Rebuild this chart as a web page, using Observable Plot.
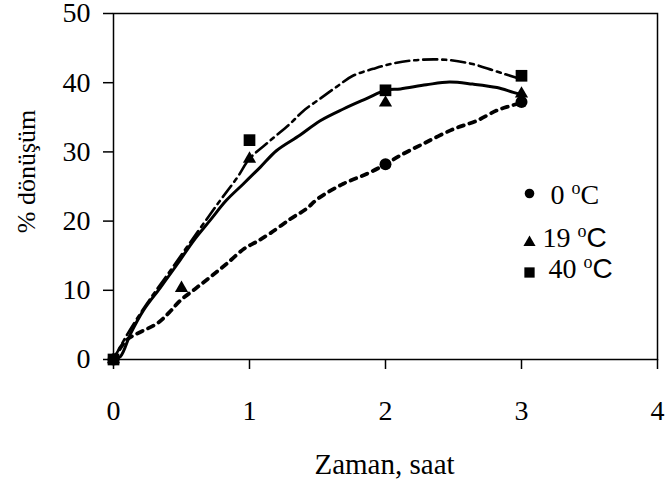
<!DOCTYPE html>
<html>
<head>
<meta charset="utf-8">
<script src="https://cdn.jsdelivr.net/npm/d3@7"></script>
<script src="https://cdn.jsdelivr.net/npm/@observablehq/plot@0.6"></script>
<style>
  html, body { margin: 0; padding: 0; background: #fff; }
</style>
</head>
<body>
<div id="chart"></div>
<script>
// ---- data ----
const xTicks = [0, 1, 2, 3, 4];
const yTicks = [0, 10, 20, 30, 40, 50];
const xLabel = "Zaman, saat";
const yLabel = "% dönüşüm";
const legendLabels = ["0 ºC", "19 ºC", "40 ºC"];
const legendSymbols = ["circle", "triangle", "square"];

// measured points
const time0 = [0, 2, 3];
const conv0 = [0, 28.2, 37.2];
const time19 = [0, 0.5, 1, 2, 3];
const conv19 = [0, 10.3, 29.0, 37.1, 38.4];
const time40 = [0, 1, 2, 3];
const conv40 = [0, 31.7, 38.9, 41.0];

// trend curves
const curve0X = [0, 0.09, 0.17, 0.32, 0.41, 0.49, 0.6, 0.71, 0.83, 0.96, 1.05, 1.15, 1.3, 1.42, 1.5, 1.69, 1.86, 2.0, 2.11, 2.28, 2.5, 2.67, 2.82, 2.91, 3.0];
const curve0Y = [0, 2.7, 3.7, 5.2, 6.8, 8.5, 10.2, 11.9, 13.8, 16.0, 17.0, 18.2, 20.3, 21.8, 23.2, 25.4, 26.8, 28.2, 29.5, 31.2, 33.3, 34.5, 36.0, 36.6, 37.1];
const curve19X = [0, 0.05, 0.125, 0.22, 0.345, 0.47, 0.59, 0.71, 0.83, 0.956, 1.08, 1.2, 1.37, 1.52, 1.69, 1.86, 2.0, 2.11, 2.3, 2.47, 2.64, 2.82, 2.94, 3.0];
const curve19Y = [0, 0.4, 3.7, 7.1, 10.4, 13.8, 17.2, 20.1, 23.0, 25.4, 27.8, 30.2, 32.4, 34.5, 36.2, 37.7, 38.9, 39.1, 39.7, 40.1, 39.8, 39.3, 38.6, 38.3];
const curve40X = [0, 0.1, 0.25, 0.42, 0.61, 0.785, 0.91, 1.0, 1.15, 1.3, 1.4, 1.52, 1.64, 1.76, 1.91, 2.06, 2.25, 2.45, 2.64, 2.79, 2.9, 3.0];
const curve40Y = [0, 3.6, 8.2, 12.9, 18.2, 23.0, 26.3, 29.0, 31.6, 34.1, 36.0, 37.7, 39.4, 41.0, 42.0, 42.8, 43.3, 43.3, 42.7, 41.8, 41.1, 40.5];

// ---- build tables ----
const pts = (xs, ys) => xs.map((x, i) => ({x, y: ys[i]}));
const c0 = pts(curve0X, curve0Y), c19 = pts(curve19X, curve19Y), c40 = pts(curve40X, curve40Y);
const p0 = pts(time0, conv0), p19 = pts(time19, conv19), p40 = pts(time40, conv40);

const FONT = "'Liberation Serif', 'Times New Roman', serif";
const legendMarkerDy = [180, 229, 259];
const legendMarkerR = [4.8, 4.5, 5.8];
const legendTextDx = [-107, -115, -109];
const legendTextDy = [190, 233, 264];

const legendMarks = [];
legendLabels.forEach((lab, i) => {
  legendMarks.push(Plot.dot([0], {frameAnchor: "top-right", dx: -128, dy: legendMarkerDy[i],
    symbol: legendSymbols[i], r: legendMarkerR[i], fill: "black", stroke: "none"}));
  legendMarks.push(Plot.text([lab], {text: d => d, frameAnchor: "top-right", textAnchor: "start",
    lineAnchor: "bottom", dx: legendTextDx[i], dy: legendTextDy[i], fontSize: 28, fill: "black"}));
});

const chart = Plot.plot({
  width: 667,
  height: 486,
  marginLeft: 113,
  marginRight: 10,
  marginTop: 13,
  marginBottom: 127,
  x: {domain: [0, 4]},
  y: {domain: [0, 50]},
  style: {fontFamily: FONT, fontSize: "28px", color: "black", background: "white", overflow: "visible"},
  marks: [
    Plot.frame({stroke: "black", strokeWidth: 1.5}),
    Plot.axisX({ticks: xTicks, tickSize: 10, tickPadding: 31, label: null, strokeWidth: 1.5, fontSize: 28, tickFormat: d => String(d)}),
    Plot.axisY({ticks: yTicks, tickSize: 10, tickPadding: 13, label: null, strokeWidth: 1.5, fontSize: 28, tickFormat: d => String(d)}),
    Plot.line(c0, {x: "x", y: "y", curve: "catmull-rom", stroke: "black", strokeWidth: 3.8, strokeDasharray: "6,6"}),
    Plot.line(c19, {x: "x", y: "y", curve: "catmull-rom", stroke: "black", strokeWidth: 3}),
    Plot.line(c40, {x: "x", y: "y", curve: "catmull-rom", stroke: "black", strokeWidth: 2.6, strokeDasharray: "14,5,4,5"}),
    Plot.dot(p40, {x: "x", y: "y", symbol: "square", r: 6.6, fill: "black", stroke: "none"}),
    Plot.dot(p19, {x: "x", y: "y", symbol: "triangle", r: 4.9, fill: "black", stroke: "none"}),
    Plot.dot(p0, {x: "x", y: "y", symbol: "circle", r: 6, fill: "black", stroke: "none"}),
    ...legendMarks,
    Plot.text([yLabel], {text: d => d, frameAnchor: "left", textAnchor: "middle", rotate: -90, dx: -87, dy: -15, fontSize: 26, fill: "black"}),
    Plot.text([xLabel], {text: d => d, frameAnchor: "bottom", textAnchor: "middle", lineAnchor: "bottom", dy: 114, dx: -1, fontSize: 29, fill: "black"})
  ]
});

// superscript "o" in the legend labels
d3.select(chart).selectAll("text").each(function () {
  const t = this.textContent;
  const i = legendLabels.indexOf(t);
  if (i < 0) return;
  const [num] = t.split(" ");
  const sel = d3.select(this);
  sel.text(null);
  sel.append("tspan").text(num + " ");
  sel.append("tspan").attr("font-size", "18px").attr("dy", "-10px").text("o");
  const c = sel.append("tspan").attr("dy", "10px").text("C");
  if (i > 0) c.attr("font-family", "'Liberation Sans', Arial, sans-serif");
});

document.getElementById("chart").append(chart);
</script>
</body>
</html>
